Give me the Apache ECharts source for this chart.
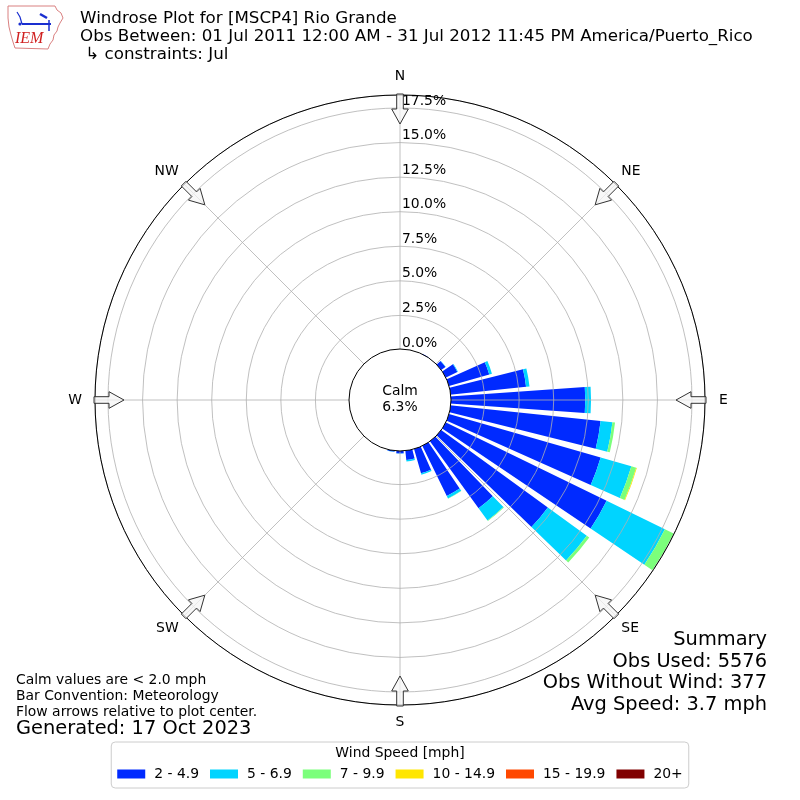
<!DOCTYPE html>
<html><head><meta charset="utf-8">
<script src="https://cdn.jsdelivr.net/npm/echarts@6/dist/echarts.min.js"></script>
<style>html,body{margin:0;padding:0;background:#fff}#c{width:800px;height:800px}</style>
</head><body><div id="c"></div>
<script>
// ---------------- data ----------------
const dirCategories = [0,10,20,30,40,50,60,70,80,90,100,110,120,130,140,150,160,170,180,190,200,210,220,230,240,250,260,270,280,290,300,310,320,330,340,350];
const speedBins = ['2 - 4.9','5 - 6.9','7 - 9.9','10 - 14.9','15 - 19.9','20+'];
const binColors = ['#002aff','#00d4ff','#7bff7b','#ffe600','#ff4800','#800000'];
// percent of observations per 10-degree sector (direction wind blows from)
const pct2to5   = [0,0,0,0.10,0.05,0.45,1.00,3.10,5.55,9.78,10.97,11.48,13.01,9.60,6.05,4.10,1.90,0.75,0.25,0.15,0,0,0,0,0,0,0,0,0,0,0,0,0,0,0,0];
const pct5to7   = [0,0,0,0,0,0.02,0.05,0.20,0.25,0.42,0.86,2.31,4.69,3.48,1.10,0.20,0.10,0.10,0.02,0.02,0,0,0,0,0,0,0,0,0,0,0,0,0,0,0,0];
const pct7to10  = [0,0,0,0,0,0,0,0,0,0,0.19,0.36,0.70,0.22,0.05,0.02,0,0,0,0,0,0,0,0,0,0,0,0,0,0,0,0,0,0,0,0];
const pct10to15 = [0,0,0,0,0,0,0,0,0,0,0,0.05,0,0,0,0,0,0,0,0,0,0,0,0,0,0,0,0,0,0,0,0,0,0,0,0];
const pct15to20 = [0,0,0,0,0,0,0,0,0,0,0,0,0,0,0,0,0,0,0,0,0,0,0,0,0,0,0,0,0,0,0,0,0,0,0,0];
const pct20up   = [0,0,0,0,0,0,0,0,0,0,0,0,0,0,0,0,0,0,0,0,0,0,0,0,0,0,0,0,0,0,0,0,0,0,0,0];
const radialTicks = [0, 2.5, 5, 7.5, 10, 12.5, 15, 17.5];
const radialMax = 18.44;
const compassLabels = ['N','NE','E','SE','S','SW','W','NW'];
const compassAngles = [0,45,90,135,180,225,270,315];
const calmPct = 6.3;
const titleLines = ['Windrose Plot for [MSCP4] Rio Grande',
  'Obs Between: 01 Jul 2011 12:00 AM - 31 Jul 2012 11:45 PM America/Puerto_Rico',
  ' \u21b3 constraints: Jul'];
const noteLines = ['Calm values are < 2.0 mph','Bar Convention: Meteorology','Flow arrows relative to plot center.'];
const generatedText = 'Generated: 17 Oct 2023';
const summaryLines = ['Summary','Obs Used: 5576','Obs Without Wind: 377','Avg Speed: 3.7 mph'];
const legendTitle = 'Wind Speed [mph]';

// ---------------- layout ----------------
const FONT = 'DejaVu Sans';
const FS = 13.9, FS_T = 16.7, FS_L = 19.4;
const CX = 400, CY = 400, R0 = 50, R1 = 305;
const seriesData = [pct2to5, pct5to7, pct7to10, pct10to15, pct15to20, pct20up];

const chart = echarts.init(document.getElementById('c'), null, {renderer:'canvas'});

function arrowPts(deg){
  const t = deg*Math.PI/180;
  const dx = Math.sin(t), dy = -Math.cos(t);
  const px = Math.cos(t), py = Math.sin(t);
  const local = [[0,-3.3],[15,-3.3],[15,-8.3],[30,0],[15,8.3],[15,3.3],[0,3.3]];
  return local.map(([u,v]) => [CX + dx*(306-u) + px*v, CY + dy*(306-u) + py*v]);
}
const f = (s) => s + 'px "' + FONT + '"';

const graphics = [];
compassAngles.forEach(a => graphics.push({
  type:'polygon', z:100, silent:true,
  shape:{points: arrowPts(a)},
  style:{fill:'rgba(245,245,245,0.75)', stroke:'#333', lineWidth:1}
}));
graphics.push({type:'circle', z:100, silent:true, shape:{cx:CX, cy:CY, r:R0+1}, style:{fill:'#fff', stroke:'#000', lineWidth:1}});
graphics.push({type:'text', z:101, x:CX, y:391, style:{text:'Calm', font:f(FS), fill:'#000', align:'center', verticalAlign:'middle'}});
graphics.push({type:'text', z:101, x:CX, y:407, style:{text:calmPct.toFixed(1)+'%', font:f(FS), fill:'#000', align:'center', verticalAlign:'middle'}});
// title
titleLines.forEach((t,i) => graphics.push({type:'text', z:101, x:80, y:19+i*18, style:{text:t, font:f(FS_T), fill:'#000', align:'left', verticalAlign:'middle'}}));
// notes
noteLines.forEach((t,i) => graphics.push({type:'text', z:101, x:16, y:680+i*16, style:{text:t, font:f(FS), fill:'#000', align:'left', verticalAlign:'middle'}}));
graphics.push({type:'text', z:101, x:16, y:729, style:{text:generatedText, font:f(FS_L), fill:'#000', align:'left', verticalAlign:'middle'}});
// summary
summaryLines.forEach((t,i) => graphics.push({type:'text', z:101, x:767, y:640+i*21.7, style:{text:t, font:f(FS_L), fill:'#000', align:'right', verticalAlign:'middle'}}));
// legend title
graphics.push({type:'text', z:101, x:400, y:753, style:{text:legendTitle, font:f(FS), fill:'#000', align:'center', verticalAlign:'middle'}});
// logo
graphics.push({type:'polygon', z:100, silent:true, shape:{points:[[8,6],[55,6],[57,10],[61,13],[63,18],[60,23],[58,27],[57,31],[54,35],[53,40],[50,44],[48,49],[15,48],[13,42],[11,35],[9,27],[8,18]]}, style:{fill:'#fff', stroke:'#d98080', lineWidth:1}});
graphics.push({type:'polyline', z:101, silent:true, shape:{points:[[22,24],[51,24]]}, style:{stroke:'#1a2fd0', lineWidth:2}});
graphics.push({type:'polyline', z:101, silent:true, shape:{points:[[17,12],[20,17],[22,24]]}, style:{stroke:'#1a2fd0', lineWidth:1.2}});
graphics.push({type:'polyline', z:101, silent:true, shape:{points:[[40,14],[47,18]]}, style:{stroke:'#1a2fd0', lineWidth:2.5}});
graphics.push({type:'polyline', z:101, silent:true, shape:{points:[[49,20],[49,31]]}, style:{stroke:'#1a2fd0', lineWidth:1.5}});
graphics.push({type:'circle', z:101, silent:true, shape:{cx:20, cy:24, r:1.6}, style:{fill:'#1a2fd0'}});
graphics.push({type:'text', z:101, x:15, y:39, style:{text:'IEM', font:'italic 16px "Liberation Serif"', fill:'#d02020', align:'left', verticalAlign:'middle'}});

const labelStyleKey = ['n','d','e','d','s','d','w','d'];

const option = {
  animation:false,
  textStyle:{fontFamily:FONT},
  polar:[
    {center:[CX,CY], radius:[R0,R1]},
    {center:[CX,CY], radius:[R0,R1]}
  ],
  angleAxis:[
    {polarIndex:0, type:'value', min:0, max:360, interval:45, startAngle:90, clockwise:true, z:5,
     axisLine:{show:true, lineStyle:{color:'#000', width:1}},
     axisTick:{show:false},
     splitLine:{show:true, lineStyle:{color:'#b0b0b0', width:0.8}},
     axisLabel:{show:true, margin:8, color:'#000', fontSize:FS, fontFamily:FONT,
       formatter: v => { const i = Math.round(v/45)%8; return '{'+labelStyleKey[i]+'|'+compassLabels[i]+'}'; },
       rich:{
         n:{fontSize:FS, fontFamily:FONT, color:'#000', padding:[0,0,4,0]},
         s:{fontSize:FS, fontFamily:FONT, color:'#000', padding:[2,0,0,0]},
         e:{fontSize:FS, fontFamily:FONT, color:'#000', padding:[0,0,0,6]},
         w:{fontSize:FS, fontFamily:FONT, color:'#000', padding:[0,5,0,0]},
         d:{fontSize:FS, fontFamily:FONT, color:'#000'}
       }}
    },
    {polarIndex:1, type:'category', data:dirCategories, startAngle:95, clockwise:true, show:false,
     axisLine:{show:false}, axisTick:{show:false}, axisLabel:{show:false}, splitLine:{show:false}}
  ],
  radiusAxis:[
    {polarIndex:0, type:'value', min:0, max:radialMax, interval:2.5, z:5,
     axisLine:{show:false}, axisTick:{show:false},
     splitLine:{show:true, lineStyle:{color:'#b0b0b0', width:0.8}},
     axisLabel:{show:true, margin:-2, align:'left', verticalAlign:'bottom', color:'#000', fontSize:FS, fontFamily:FONT,
       formatter: v => { const hit = radialTicks.find(t => Math.abs(t - v) < 1e-6); return hit === undefined ? '' : hit.toFixed(1)+'%'; }}
    },
    {polarIndex:1, type:'value', min:0, max:radialMax, show:false,
     axisLine:{show:false}, axisTick:{show:false}, axisLabel:{show:false}, splitLine:{show:false}}
  ],
  legend:{
    data:speedBins, left:'center', top:742, icon:'rect', itemWidth:28, itemHeight:9, itemGap:11,
    padding:[25,6,7,6], borderColor:'#cccccc', borderWidth:1, borderRadius:4,
    textStyle:{fontSize:FS, color:'#000', fontFamily:FONT, padding:[0,0,0,4]}, selectedMode:false
  },
  series: speedBins.map((name,k) => ({
    type:'bar', name:name, coordinateSystem:'polar', polarIndex:1, stack:'ws',
    data: seriesData[k], barCategoryGap:'20%', itemStyle:{color:binColors[k]}, silent:true, z:2
  })),
  graphic: graphics
};
chart.setOption(option);
</script>
</body></html>
